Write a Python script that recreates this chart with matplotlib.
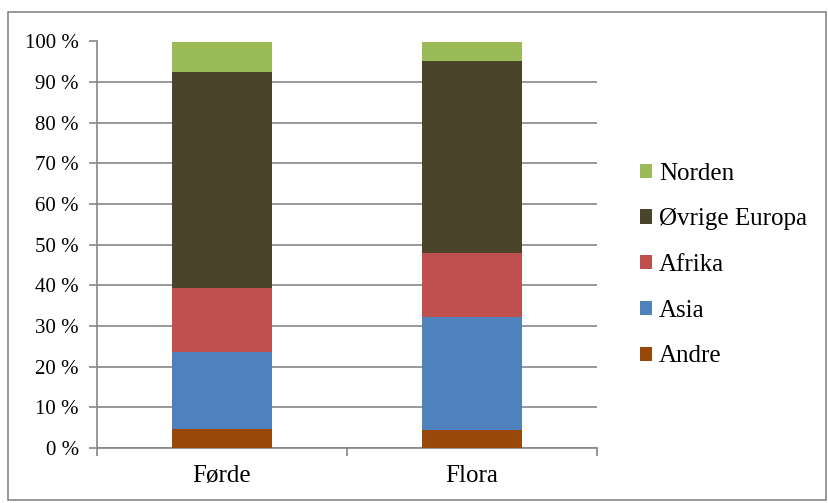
import matplotlib.pyplot as plt
from matplotlib.patches import Patch, Rectangle

plt.rcParams['font.family'] = ['Liberation Serif', 'DejaVu Serif']

# andeler i prosent, nederst til øverst i stolpene
steder = ['Førde', 'Flora']
andre = [4.75, 4.35]
asia = [18.95, 27.85]
afrika = [15.6, 15.7]
ovrige_europa = [53.2, 47.4]
norden = [7.5, 4.7]

serier = [
    ('Andre', andre, '#984807'),
    ('Asia', asia, '#4f81bd'),
    ('Afrika', afrika, '#c0504d'),
    ('Øvrige Europa', ovrige_europa, '#4a452a'),
    ('Norden', norden, '#9bbb59'),
]

fig = plt.figure(figsize=(8.29, 5.03), dpi=100)
ax = fig.add_axes([97 / 829, 55 / 503, 500 / 829, 406.5 / 503])

x = list(range(len(steder)))
bunn = [0.0] * len(steder)
for navn, verdier, farge in serier:
    ax.bar(x, verdier, width=0.4, bottom=bunn, color=farge, zorder=3)
    bunn = [b + v for b, v in zip(bunn, verdier)]

ax.set_xlim(-0.5, 1.5)
ax.set_ylim(0, 100)
ax.set_yticks(range(0, 101, 10))
ax.set_yticklabels(['%d %%' % v for v in range(0, 101, 10)])
ax.yaxis.grid(True, color='#868686', linewidth=1.2, zorder=0)

# kategorinavn midt under stolpene, tikk mellom kategoriene
ax.set_xticks([-0.5, 0.5, 1.5])
ax.set_xticklabels([])
ax.set_xticks(x, minor=True)
ax.set_xticklabels(steder, minor=True)
ax.tick_params(axis='x', which='minor', length=0, pad=12, labelsize=18)
ax.tick_params(axis='x', which='major', length=6, color='#868686', width=1.2)
ax.tick_params(axis='y', length=6, color='#868686', width=1.2, labelsize=15, pad=7)

for side in ['top', 'right']:
    ax.spines[side].set_visible(False)
for side in ['left', 'bottom']:
    ax.spines[side].set_color('#868686')
    ax.spines[side].set_linewidth(1.2)

handles = [Patch(facecolor=f, edgecolor='none', label=n) for n, v, f in reversed(serier)]
fig.legend(handles=handles, loc='center left', bbox_to_anchor=(640 / 829, 1 - 265 / 503),
           frameon=False, fontsize=18, handlelength=0.5, handleheight=0.5,
           handletextpad=0.25, labelspacing=0.95, borderaxespad=0, borderpad=0)

# ramme rundt hele diagrammet
fig.patches.append(Rectangle((8 / 829, 3 / 503), 818 / 829, 488 / 503, transform=fig.transFigure,
                             fill=False, edgecolor='#868686', linewidth=1.2))

fig.savefig('out.png', dpi=100)
